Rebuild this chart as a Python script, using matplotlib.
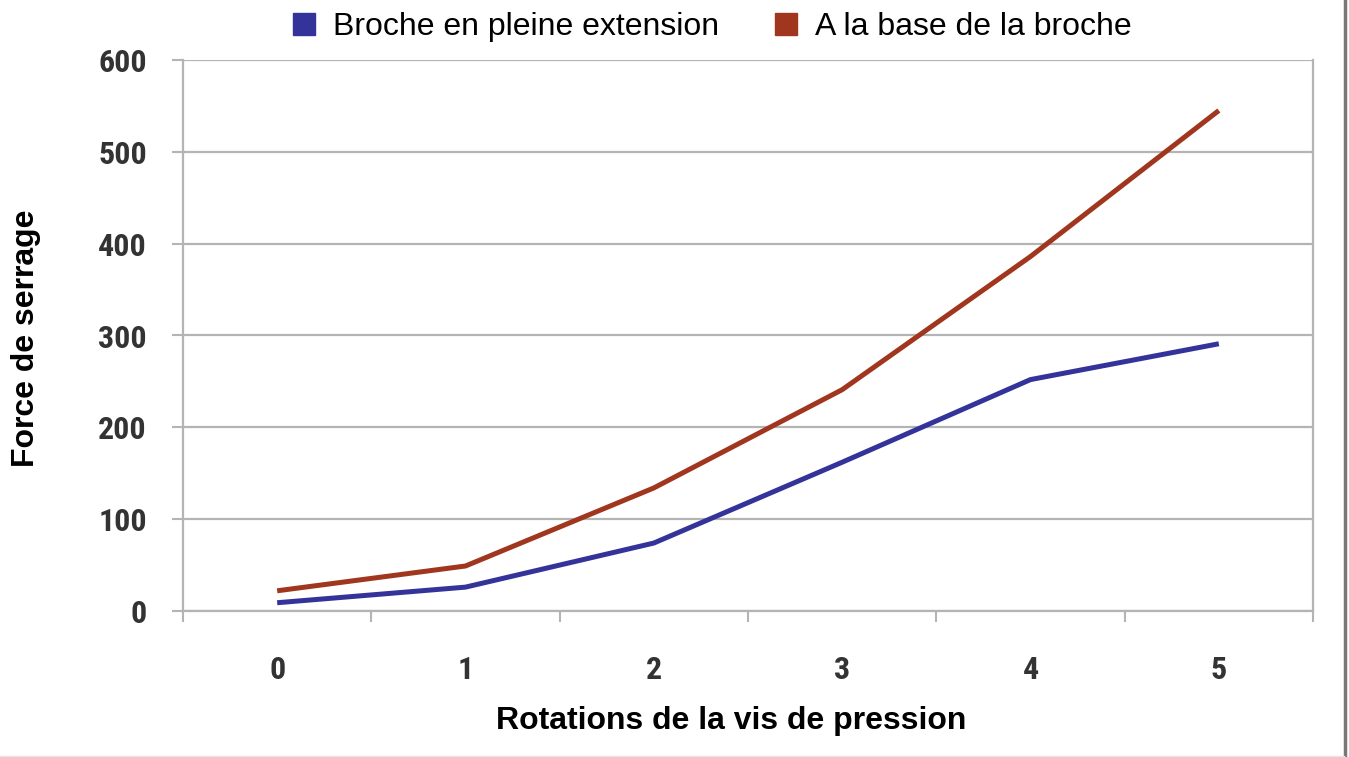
import matplotlib
matplotlib.use("Agg")
import matplotlib.pyplot as plt
from matplotlib.lines import Line2D
from matplotlib import font_manager as fm
import numpy as np

categories = ["0", "1", "2", "3", "4", "5"]
broche_pleine = [9, 26, 74, 162, 252, 291]
base_broche = [22, 49, 134, 241, 386, 545]
series_names = ["Broche en pleine extension", "A la base de la broche"]
yticks = [0, 100, 200, 300, 400, 500, 600]

blue = "#34339a"
red = "#a1361f"
grid_c = "#b4b4b4"

plt.rcParams['font.family'] = ["Liberation Sans", "DejaVu Sans"]

names = {f.name for f in fm.fontManager.ttflist}
if "Roboto Condensed" in names:
    tick_fp = dict(fontfamily="Roboto Condensed", fontweight='bold', fontsize=23)
elif "DejaVu Sans Condensed" in names:
    tick_fp = dict(fontfamily="DejaVu Sans Condensed", fontweight='bold', fontsize=21)
else:
    tick_fp = dict(fontfamily="DejaVu Sans", fontstretch='condensed', fontweight='bold', fontsize=21)

fig = plt.figure(figsize=(13.49, 7.57), dpi=100)
ax = fig.add_axes([183/1349, 1-611/757, (1313-183)/1349, (611-60)/757])

x = np.arange(len(categories))
ax.plot(x, broche_pleine, color=blue, lw=3.6, solid_capstyle='butt', zorder=3)
ax.plot(x, base_broche, color=red, lw=3.6, solid_capstyle='butt', zorder=3)

ax.set_xlim(-0.5, len(categories) - 0.5)
ax.set_ylim(0, 600)

# y axis
ax.set_yticks(yticks)
ax.set_yticklabels([str(v) for v in yticks], color='#333333', **tick_fp)
ax.tick_params(axis='y', length=8, width=1.5, color=grid_c, pad=18)
for v in yticks:
    ax.axhline(v, color=grid_c, lw=1.6, zorder=1)

# x axis: major ticks at boundaries, labels at category centers
ax.set_xticks(np.arange(-0.5, len(categories), 1.0))
ax.set_xticklabels([])
ax.tick_params(axis='x', which='major', length=8, width=1.5, color=grid_c)
ax.set_xticks(x, minor=True)
ax.set_xticklabels(categories, minor=True, color='#333333', **tick_fp)
ax.tick_params(axis='x', which='minor', length=0, pad=32)

for s in ['left', 'right', 'bottom']:
    ax.spines[s].set_color(grid_c)
    ax.spines[s].set_linewidth(1.6)
ax.spines['top'].set_visible(False)

ax.set_xlabel("Rotations de la vis de pression", fontsize=23, fontweight='bold')
ax.xaxis.set_label_coords(0.4854, -0.172)
ax.set_ylabel("Force de serrage", fontsize=23, fontweight='bold')
ax.yaxis.set_label_coords(-0.126, 0.495)

handles = [Line2D([], [], marker='s', color='none', markerfacecolor=blue,
                  markeredgecolor=blue, markersize=16),
           Line2D([], [], marker='s', color='none', markerfacecolor=red,
                  markeredgecolor=red, markersize=16)]
fig.legend(handles, series_names, loc='upper center', bbox_to_anchor=(0.526, 1.022),
           ncol=2, frameon=False, fontsize=23, handletextpad=0.4,
           columnspacing=1.6, handlelength=1.0)

# right window border
fig.add_artist(Line2D([1344.5/1349, 1344.5/1349], [0, 1], color='#777777', lw=2.5,
                      transform=fig.transFigure))
fig.add_artist(Line2D([0, 1344/1349], [1.5/757, 1.5/757], color='#e6e6e6', lw=1,
                      transform=fig.transFigure))

fig.savefig("out.png", dpi=100, facecolor='white')
